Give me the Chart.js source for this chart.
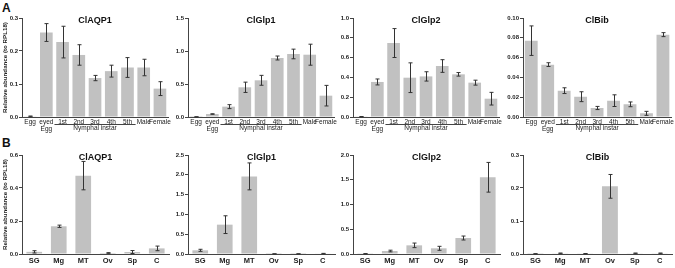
<!DOCTYPE html>
<html>
<head>
<meta charset="utf-8">
<script src="https://cdn.jsdelivr.net/npm/chart.js@4.4.1/dist/chart.umd.min.js"></script>
<style>
  body { margin: 0; background: #fff; }
  #wrap { position: relative; width: 675px; height: 268px; overflow: hidden; font-family: "Liberation Sans", Arial, sans-serif; }
  canvas { position: absolute; }
  .tag { position: absolute; font: bold 12px "Liberation Sans", Arial, sans-serif; color: #111; }
</style>
</head>
<body>
<div id="wrap">
  <div class="tag" style="left:2px;top:1px">A</div>
  <div class="tag" style="left:2px;top:136px">B</div>
</div>
<script>
// categories
var stageLabels = ['Egg', ['eyed', 'Egg'], '1st', '2nd', '3rd', '4th', '5th', 'Male', 'Female'];
var tissueLabels = ['SG', 'Mg', 'MT', 'Ov', 'Sp', 'C'];
var geneNames = ['ClAQP1', 'ClGlp1', 'ClGlp2', 'ClBib'];

// A: developmental stages (mean, sem)
var aqp1Stage    = [0.002, 0.256, 0.227, 0.188, 0.118, 0.139, 0.150, 0.150, 0.086];
var aqp1StageErr = [0.001, 0.027, 0.048, 0.031, 0.008, 0.018, 0.030, 0.025, 0.021];
var glp1Stage    = [0.002, 0.045, 0.157, 0.450, 0.556, 0.894, 0.955, 0.944, 0.323];
var glp1StageErr = [0.001, 0.004, 0.030, 0.078, 0.075, 0.030, 0.073, 0.159, 0.156];
var glp2Stage    = [0.003, 0.354, 0.747, 0.397, 0.410, 0.515, 0.431, 0.347, 0.185];
var glp2StageErr = [0.002, 0.030, 0.146, 0.150, 0.047, 0.064, 0.018, 0.025, 0.064];
var bibStage     = [0.0771, 0.0529, 0.0266, 0.0205, 0.0091, 0.0165, 0.0128, 0.0037, 0.0832];
var bibStageErr  = [0.0149, 0.0019, 0.0029, 0.0050, 0.0016, 0.0059, 0.0024, 0.0020, 0.0020];

// B: tissues (mean, sem)
var aqp1Tissue    = [0.013, 0.168, 0.475, 0.006, 0.012, 0.034];
var aqp1TissueErr = [0.007, 0.007, 0.086, 0.002, 0.009, 0.014];
var glp1Tissue    = [0.093, 0.741, 1.960, 0.003, 0.003, 0.010];
var glp1TissueErr = [0.026, 0.224, 0.340, 0.001, 0.001, 0.006];
var glp2Tissue    = [0.005, 0.060, 0.175, 0.115, 0.323, 1.550];
var glp2TissueErr = [0.003, 0.017, 0.046, 0.040, 0.040, 0.300];
var bibTissue     = [0.0005, 0.002, 0.001, 0.205, 0.002, 0.002];
var bibTissueErr  = [0.0003, 0.001, 0.0005, 0.036, 0.001, 0.001];

// y tick labels
var stageTicks = [[0, 0.1, 0.2, 0.3], [0, 0.5, 1.0, 1.5], [0, 0.2, 0.4, 0.6, 0.8, 1.0], [0, 0.02, 0.04, 0.06, 0.08, 0.10]];
var stageDecimals = [1, 1, 1, 2];
var tissueTicks = [[0, 0.2, 0.4, 0.6], [0, 0.5, 1.0, 1.5, 2.0, 2.5], [0, 0.5, 1.0, 1.5, 2.0], [0, 0.1, 0.2, 0.3]];
var tissueDecimals = [1, 1, 1, 1];

var yTitle = 'Relative abundance (to RPL18)';
var instarLabel = 'Nymphal instar';

var FONT = '"Liberation Sans", Arial, sans-serif';
var plotLeft = [22, 188, 353, 523];
var plotRight = [169, 335, 500, 672];
var yAxisW = 22;

function makePanel(row, i, labels, values, errs, ticks, dec) {
  var isA = row === 'A';
  var top = isA ? 0 : 137;
  var h = isA ? 134 : 131;
  var xH = isA ? 17 : 14;
  var cv = document.createElement('canvas');
  var w = plotRight[i] - plotLeft[i] + yAxisW + 4;
  cv.width = w; cv.height = h;
  cv.style.left = (plotLeft[i] - yAxisW) + 'px';
  cv.style.top = top + 'px';
  document.getElementById('wrap').appendChild(cv);

  return new Chart(cv, {
    type: 'bar',
    data: {
      labels: labels,
      datasets: [{
        data: values,
        backgroundColor: '#c1c1c1',
        barPercentage: isA ? 0.78 : 0.64,
        categoryPercentage: 1
      }]
    },
    options: {
      responsive: false,
      animation: false,
      devicePixelRatio: 1,
      layout: { padding: { top: 18, right: 4, left: 0, bottom: 0 } },
      plugins: { legend: { display: false }, tooltip: { enabled: false } },
      scales: {
        x: {
          grid: { display: false, drawTicks: false },
          border: { color: '#444', width: 1 },
          ticks: {
            autoSkip: false, maxRotation: 0, minRotation: 0,
            padding: isA ? 2 : 3,
            color: '#222',
            font: isA ? { family: FONT, size: 6.5, lineHeight: 1 } : { family: FONT, size: 7.5, weight: 'bold', lineHeight: 1 }
          },
          afterFit: function(s) { s.height = xH; }
        },
        y: {
          min: 0,
          max: ticks[ticks.length - 1],
          afterBuildTicks: function(s) { s.ticks = ticks.map(function(v) { return { value: v }; }); },
          grid: { display: true, drawOnChartArea: false, drawTicks: true, tickLength: 3, color: '#444' },
          border: { color: '#444', width: 1 },
          ticks: {
            padding: 1,
            color: '#222',
            font: { family: FONT, size: 6, weight: 'bold' },
            callback: function(v) { return Number(v).toFixed(dec); }
          },
          title: {
            display: i === 0,
            text: yTitle,
            color: '#222',
            padding: { top: 2, bottom: 0 },
            font: { family: FONT, size: 6.2, weight: 'bold', lineHeight: 1.2 }
          },
          afterFit: function(s) { s.width = yAxisW; }
        }
      }
    },
    plugins: [{
      id: 'decor',
      afterDatasetsDraw: function(chart) {
        var ctx = chart.ctx;
        var ys = chart.scales.y;
        var xs = chart.scales.x;
        var area = chart.chartArea;
        ctx.save();
        // error bars
        ctx.strokeStyle = '#333';
        ctx.lineWidth = 1;
        chart.getDatasetMeta(0).data.forEach(function(bar, k) {
          var x = Math.round(bar.x) + 0.5;
          var y1 = ys.getPixelForValue(values[k] + errs[k]);
          var y2 = ys.getPixelForValue(Math.max(0, values[k] - errs[k]));
          ctx.beginPath();
          ctx.moveTo(x, y1); ctx.lineTo(x, y2);
          ctx.moveTo(x - 2, y1); ctx.lineTo(x + 2, y1);
          ctx.moveTo(x - 2, y2); ctx.lineTo(x + 2, y2);
          ctx.stroke();
        });
        // panel title
        ctx.fillStyle = '#111';
        ctx.font = 'bold 9px ' + FONT;
        ctx.textAlign = 'center';
        ctx.textBaseline = 'middle';
        ctx.fillText(geneNames[i], (area.left + area.right) / 2, area.top + 3);
        // nymphal instar bracket
        if (isA) {
          var step = xs.getPixelForValue(3) - xs.getPixelForValue(2);
          var l = xs.getPixelForValue(2) - step / 2;
          var r = xs.getPixelForValue(6) + step / 2;
          ctx.strokeStyle = '#444';
          ctx.beginPath();
          ctx.moveTo(l, 124.5); ctx.lineTo(r, 124.5);
          ctx.stroke();
          ctx.fillStyle = '#222';
          ctx.font = '6.5px ' + FONT;
          ctx.fillText(instarLabel, (l + r) / 2, 128.5);
        }
        ctx.restore();
      }
    }]
  });
}

var stageVals = [aqp1Stage, glp1Stage, glp2Stage, bibStage];
var stageErrs = [aqp1StageErr, glp1StageErr, glp2StageErr, bibStageErr];
var tissueVals = [aqp1Tissue, glp1Tissue, glp2Tissue, bibTissue];
var tissueErrs = [aqp1TissueErr, glp1TissueErr, glp2TissueErr, bibTissueErr];

for (var i = 0; i < 4; i++) {
  makePanel('A', i, stageLabels, stageVals[i], stageErrs[i], stageTicks[i], stageDecimals[i]);
  makePanel('B', i, tissueLabels, tissueVals[i], tissueErrs[i], tissueTicks[i], tissueDecimals[i]);
}
</script>
</body>
</html>
